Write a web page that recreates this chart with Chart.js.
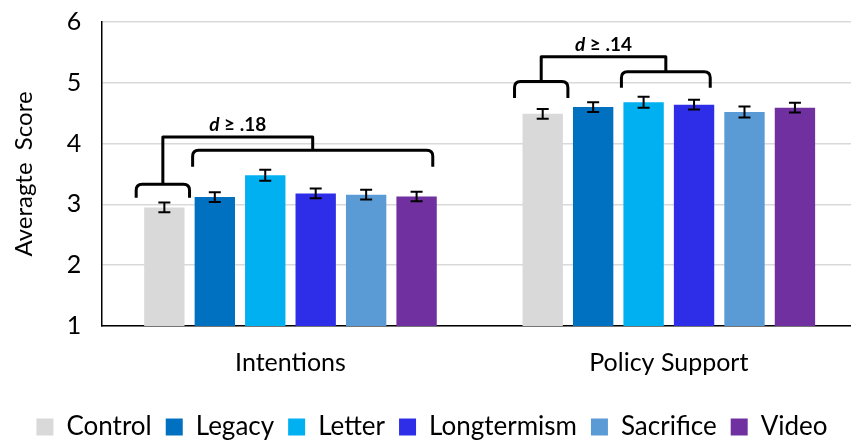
<!DOCTYPE html>
<html lang="en">
<head>
  <title>Average Score by Condition</title>
  <script src="https://cdn.jsdelivr.net/npm/chart.js"></script>
  <style>
    html, body { margin: 0; padding: 0; background: #fff; overflow: hidden; }
    .wrap { width: 858px; height: 461px; margin-top: -13px; }
  </style>
</head>
<body>
<div class="wrap">
  <canvas id="scoreChart"></canvas>
</div>
<script>
  const categories = ['Intentions', 'Policy Support'];
  const conditions = ['Control', 'Legacy', 'Letter', 'Longtermism', 'Sacrifice', 'Video'];
  const colors = ['#d9d9d9', '#0070c0', '#00b0f0', '#2e2ee8', '#5b9bd5', '#7030a0'];

  // mean score per condition: [Intentions, Policy Support]
  const control = [2.95, 4.49];
  const legacy = [3.12, 4.60];
  const letter = [3.48, 4.68];
  const longtermism = [3.18, 4.64];
  const sacrifice = [3.16, 4.52];
  const video = [3.13, 4.59];

  // standard error half-widths
  const controlErr = [0.08, 0.08];
  const legacyErr = [0.08, 0.08];
  const letterErr = [0.09, 0.09];
  const longtermismErr = [0.08, 0.08];
  const sacrificeErr = [0.08, 0.09];
  const videoErr = [0.08, 0.08];

  const yTicks = [1, 2, 3, 4, 5, 6];

  const series = [control, legacy, letter, longtermism, sacrifice, video];
  const errors = [controlErr, legacyErr, letterErr, longtermismErr, sacrificeErr, videoErr];

  // significance brackets: small one over Control, big one over a range of bars
  const brackets = [
    { cat: 0, label: '.18', bigFrom: 1, bigTo: 5,
      smallTop: 3.33, smallLeg: 3.11, bigTop: 3.89, bigLeg: 3.62, link: 4.11, text: 4.30 },
    { cat: 1, label: '.14', bigFrom: 2, bigTo: 3,
      smallTop: 5.02, smallLeg: 4.75, bigTop: 5.18, bigLeg: 4.92, link: 5.43, text: 5.63 }
  ];

  const FONT = 'Lato, "Open Sans", sans-serif';

  const errorBars = {
    id: 'errorBars',
    afterDatasetsDraw(chart) {
      const ctx = chart.ctx;
      const y = chart.scales.y;
      ctx.save();
      ctx.strokeStyle = '#000';
      ctx.lineWidth = 2;
      series.forEach((vals, i) => {
        const meta = chart.getDatasetMeta(i);
        meta.data.forEach((bar, j) => {
          const top = y.getPixelForValue(vals[j] + errors[i][j]);
          const bot = y.getPixelForValue(vals[j] - errors[i][j]);
          ctx.beginPath();
          ctx.moveTo(bar.x, top); ctx.lineTo(bar.x, bot);
          ctx.moveTo(bar.x - 6, top); ctx.lineTo(bar.x + 6, top);
          ctx.moveTo(bar.x - 6, bot); ctx.lineTo(bar.x + 6, bot);
          ctx.stroke();
        });
      });
      ctx.restore();
    }
  };

  function drawBracket(ctx, x1, x2, top, leg) {
    const r = 6;
    ctx.beginPath();
    ctx.moveTo(x1, leg);
    ctx.lineTo(x1, top + r);
    ctx.quadraticCurveTo(x1, top, x1 + r, top);
    ctx.lineTo(x2 - r, top);
    ctx.quadraticCurveTo(x2, top, x2, top + r);
    ctx.lineTo(x2, leg);
    ctx.stroke();
  }

  const bracketPlugin = {
    id: 'brackets',
    afterDatasetsDraw(chart) {
      const ctx = chart.ctx;
      const y = chart.scales.y;
      ctx.save();
      ctx.strokeStyle = '#000';
      ctx.lineWidth = 3;
      ctx.lineJoin = 'round';
      brackets.forEach(b => {
        const c = chart.getDatasetMeta(0).data[b.cat];
        const f = chart.getDatasetMeta(b.bigFrom).data[b.cat];
        const t = chart.getDatasetMeta(b.bigTo).data[b.cat];
        const sx1 = c.x - c.width / 2 - 8, sx2 = c.x + c.width / 2 + 5;
        const bx1 = f.x - f.width / 2 - 2, bx2 = t.x + t.width / 2 - 4;
        drawBracket(ctx, sx1, sx2, y.getPixelForValue(b.smallTop), y.getPixelForValue(b.smallLeg));
        drawBracket(ctx, bx1, bx2, y.getPixelForValue(b.bigTop), y.getPixelForValue(b.bigLeg));
        const sc = (sx1 + sx2) / 2, bc = (bx1 + bx2) / 2;
        const ly = y.getPixelForValue(b.link);
        ctx.beginPath();
        ctx.moveTo(sc, y.getPixelForValue(b.smallTop));
        ctx.lineTo(sc, ly);
        ctx.lineTo(bc, ly);
        ctx.lineTo(bc, y.getPixelForValue(b.bigTop));
        ctx.stroke();

        // "d ≥ .xx" label, d in italics
        const ty = y.getPixelForValue(b.text);
        const tx = (sc + bc) / 2;
        ctx.fillStyle = '#000';
        ctx.textBaseline = 'middle';
        ctx.font = 'italic bold 19px ' + FONT;
        const dW = ctx.measureText('d').width;
        ctx.font = 'bold 19px ' + FONT;
        const rest = ' \u2265 ' + b.label;
        const rW = ctx.measureText(rest).width;
        const start = tx - (dW + rW) / 2;
        ctx.font = 'italic bold 19px ' + FONT;
        ctx.textAlign = 'left';
        ctx.fillText('d', start, ty);
        ctx.font = 'bold 19px ' + FONT;
        ctx.fillText(rest, start + dW, ty);
      });
      ctx.restore();
    }
  };

  new Chart(document.getElementById('scoreChart'), {
    type: 'bar',
    data: {
      labels: categories,
      datasets: conditions.map((name, i) => ({
        label: name,
        data: series[i],
        backgroundColor: colors[i],
        categoryPercentage: 0.8,
        barPercentage: 0.8
      }))
    },
    options: {
      responsive: true,
      maintainAspectRatio: false,
      animation: false,
      layout: { padding: { top: -10, right: 0, left: 6, bottom: -2 } },
      scales: {
        x: {
          grid: { display: false, drawTicks: false },
          border: { color: '#000', width: 1.5 },
          ticks: { color: '#000', font: { family: FONT, size: 25 }, padding: 22 }
        },
        y: {
          min: 1, max: 6,
          afterBuildTicks: axis => { axis.ticks = yTicks.map(v => ({ value: v })); },
          grid: { color: '#d9d9d9', lineWidth: 1.5, drawTicks: false },
          border: { color: '#000', width: 1.5 },
          ticks: { color: '#000', font: { family: FONT, size: 25 }, padding: 20 },
          title: { display: true, text: 'Averagte  Score', color: '#000',
                   font: { family: FONT, size: 24 }, padding: { bottom: 8 } }
        }
      },
      plugins: {
        legend: {
          position: 'bottom',
          labels: { color: '#000', font: { family: FONT, size: 26 },
                    boxWidth: 17, boxHeight: 17, padding: 14 }
        },
        tooltip: { enabled: false }
      }
    },
    plugins: [errorBars, bracketPlugin]
  });
</script>
</body>
</html>
